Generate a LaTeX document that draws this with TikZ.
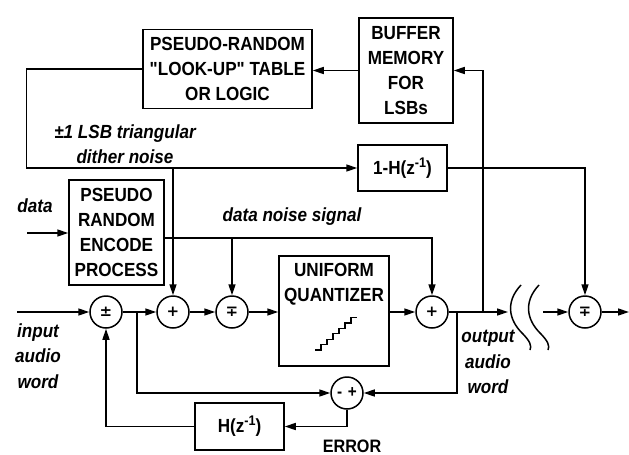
\documentclass[tikz,border=0pt]{standalone}
\usepackage{fontspec}
\setmainfont[Ligatures=TeXOff, FakeStretch=0.9]{Liberation Sans}
\newfontfamily\symfont{DejaVu Sans}
\usetikzlibrary{arrows.meta}

\newcommand{\zinv}{\raisebox{7pt}{\fontsize{14}{14}\selectfont -1}}

\begin{document}
\begin{tikzpicture}[x=1pt,y=-1pt, line width=1.5pt,
  >={Triangle[length=11pt,width=7pt]},
  blk/.style={draw, align=center, inner sep=0pt,
    font=\bfseries\fontsize{19}{25}\selectfont},
  txt/.style={align=center, inner sep=0pt,
    font=\bfseries\fontsize{19}{25}\selectfont},
  sumn/.style={draw, circle, minimum size=32pt, inner sep=0pt,
    font=\symfont\bfseries\fontsize{15}{15}\selectfont},
  lbl/.style={align=center, inner sep=0pt,
    font=\bfseries\itshape\fontsize{19}{25.5}\selectfont},
  stair/.style={line width=1.2pt}
]
\useasboundingbox (0,0) rectangle (629,455);

% blocks
\node[blk, minimum width=169pt, minimum height=79pt] (tbl) at (227.5,69)
  {PSEUDO-RANDOM\\"LOOK-UP" TABLE\\OR LOGIC};
\node[blk, minimum width=94pt, minimum height=105pt] (buf) at (406,70.5)
  {BUFFER\\MEMORY\\FOR\\LSBs};
\node[blk, minimum width=89pt, minimum height=46pt] (hm) at (402.5,168)
  {1-H(z\zinv)};
\node[blk, minimum width=95pt, minimum height=105pt] (enc) at (116.5,232.5)
  {PSEUDO\\RANDOM\\ENCODE\\PROCESS};
\node[blk, minimum width=110pt, minimum height=110pt] (qz) at (334,311) {};
\node[txt] (qzt) at (334,284.5) {UNIFORM\\QUANTIZER};
\node[blk, minimum width=89pt, minimum height=47pt] (h) at (239.5,426.5)
  {H(z\zinv)};

% quantizer staircase
\draw[stair] (315,350) -- ++(6,0)
  \foreach \i in {1,...,5} { -- ++(0,-5.4) -- ++(6,0) } -- ++(0,-5.4) -- ++(6,0);

% summing junctions
\node[sumn] (s1) at (106,312) {±};
\node[sumn] (s2) at (173,312) {+};
\node[sumn] (s3) at (232,312) {∓};
\node[sumn] (s4) at (432,312) {+};
\node[sumn] (s5) at (585,312) {∓};
\node[sumn, font=\bfseries\fontsize{17}{17}\selectfont] (d) at (347,393) {-\,\,+};

% free ends and branch points
\coordinate (in) at (17,312);
\coordinate (dat) at (27,233);
\coordinate (out) at (508,312);
\coordinate (jb) at (483,312);
\coordinate (je) at (457,312);
\coordinate (jf) at (137,312);
\coordinate (w5) at (543,312);
\coordinate (end) at (629,312);
\coordinate (dn) at ([yshift=-5.5pt]enc.east);

% forward path
\draw[->] (in) -- (s1);
\draw[->] (s1) -- (s2);
\draw[->] (s2) -- (s3);
\draw[->] (s3) -- (s3 -| qz.west);
\draw[->] (s4 -| qz.east) -- (s4);
\draw[->] (s4) -- (out);
\draw[->] (w5) -- (s5);
\draw[->] (s5) -- (end);

% buffer / look-up loop
\draw[->] (jb) |- (buf.east);
\draw[->] (buf.west) -- (buf.west -| tbl.east);
\draw[->] (tbl.west) -- ++(-116,0) |- (hm.west);
\draw[->] (s2 |- hm.west) -- (s2);
\draw[->] (hm.east) -| (s5);

% data encoding
\draw[->] (dat) -- (dat -| enc.west);
\draw[->] (dn) -| (s4);
\draw[->] (dn -| s3) -- (s3);

% error feedback
\draw[->] (jf) |- (d);
\draw[->] (je) |- (d);
\draw[->] (d) |- (h);
\draw[->] (h) -| (s1);

% channel break
\draw (521,285) .. controls (505,302) and (509,320) .. (522,333)
  .. controls (530,341) and (532,346) .. (530,350);
\draw (539,285) .. controls (523,302) and (527,320) .. (540,333)
  .. controls (548,341) and (550,346) .. (548,350);

% labels
\node[lbl] (ldat) at (35,206) {data};
\node[lbl] (ldith) at (125,144) {±1 LSB triangular\\dither noise};
\node[lbl] (ldn) at (292,217) {data noise signal};
\node[lbl] (lin) at (38,356) {input\\audio\\word};
\node[lbl] (lout) at (488,362) {output\\audio\\word};
\node[inner sep=0pt, anchor=base, font=\bfseries\fontsize{18}{18}\selectfont]
  (lerr) at (352,452) {ERROR};
\end{tikzpicture}
\end{document}
